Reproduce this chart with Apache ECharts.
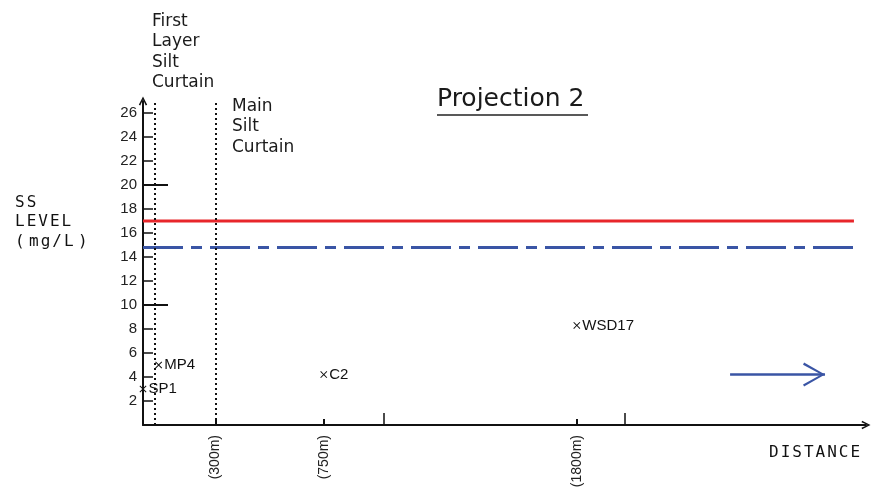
<!DOCTYPE html>
<html>
<head>
<meta charset="utf-8">
<script src="https://cdn.jsdelivr.net/npm/echarts@6/dist/echarts.min.js"></script>
<style>html,body{margin:0;padding:0;background:#fff;}#c{width:877px;height:492px;}</style>
</head>
<body>
<div id="c"></div>
<script>
// ---- data ----
const pointNames = ['SP1', 'MP4', 'C2', 'WSD17'];
const pointDist = [0, 65, 750, 1800];
const pointLevel = [3.0, 5.0, 4.2, 8.3];
const curtainDist = [50, 300];
const xLabelValues = [300, 750, 1800];
const xMinorTicks = [300, 750, 1800];
const xMajorTicks = [1000, 2000];
const yLabelValues = [2, 4, 6, 8, 10, 12, 14, 16, 18, 20, 22, 24, 26];
const yMajorTicks = [10, 20];
const redLimit = [[0, 17], [2950, 17]];
const blueLimit = [[0, 14.8], [2970, 14.8]];
const arrowLine = [[2436, 4.2], [2830, 4.2]];
const xMax = 3000, yMax = 27;

const chev = 'path://M0,20 L10,0 L20,20 L18.2,21 L10,3.6 L1.8,21 Z';
const axisChev = 'path://M0,20 L10,0 L20,20 L16.5,21.5 L10,7 L3.5,21.5 Z';
const cross = 'path://M1,0 L5,4 L9,0 L10,1 L6,5 L10,9 L9,10 L5,6 L1,10 L0,9 L4,5 L0,1 Z';

function spaced(str) {
  // wrap every character in a rich token so it gets letter spacing
  return str.split('\n').map(line => line.split('').map(ch => ch === ' ' ? '{s| }' : '{l|' + ch + '}').join('')).join('\n');
}
const monoRich = {
  l: {fontFamily: 'DejaVu Sans Mono', fontSize: 16, fill: '#111', padding: [0, 1]},
  s: {fontFamily: 'DejaVu Sans Mono', fontSize: 4, fill: '#111', padding: [0, 0]}
};
const roundText = {fontFamily: 'DejaVu Sans', fontSize: 17, fill: '#1a1a1a', lineHeight: 20.5};

const chart = echarts.init(document.getElementById('c'));
chart.setOption({
  animation: false,
  backgroundColor: '#fff',
  grid: {left: 143, right: 11, top: 101, bottom: 67},
  xAxis: [{
    type: 'value', min: 0, max: xMax,
    axisLine: {show: true, lineStyle: {color: '#111', width: 2}, symbol: ['none', axisChev], symbolSize: [11, 9]},
    splitLine: {show: false},
    axisTick: {show: true, inside: true, length: 6, customValues: xMinorTicks, lineStyle: {color: '#111', width: 2}},
    axisLabel: {show: true, customValues: xLabelValues, rotate: 90, formatter: v => '(' + v + 'm)',
      fontFamily: 'Liberation Sans', fontSize: 14, color: '#222', margin: 10}
  }, {
    type: 'value', min: 0, max: xMax, position: 'bottom', offset: 0,
    axisLine: {show: false}, splitLine: {show: false}, axisLabel: {show: false},
    axisTick: {show: true, inside: true, length: 12, customValues: xMajorTicks, lineStyle: {color: '#111', width: 1.5}}
  }],
  yAxis: [{
    type: 'value', min: 0, max: yMax,
    axisLine: {show: true, lineStyle: {color: '#111', width: 2}, symbol: ['none', axisChev], symbolSize: [13, 9]},
    splitLine: {show: false},
    axisTick: {show: true, inside: true, length: 10, customValues: yLabelValues, lineStyle: {color: '#111', width: 1.5}},
    axisLabel: {show: true, customValues: yLabelValues, fontFamily: 'Liberation Sans', fontSize: 15, color: '#222', margin: 6}
  }, {
    type: 'value', min: 0, max: yMax, position: 'left', offset: 0,
    axisLine: {show: false}, splitLine: {show: false}, axisLabel: {show: false},
    axisTick: {show: true, inside: true, length: 25, customValues: yMajorTicks, lineStyle: {color: '#111', width: 2}}
  }],
  series: [
    {
      type: 'line', data: redLimit, symbol: 'none', silent: true,
      lineStyle: {color: '#e8262b', width: 3}
    },
    {
      type: 'line', data: blueLimit, symbol: 'none', silent: true,
      lineStyle: {color: '#3a55a5', width: 3, type: [40, 8, 11, 8]}
    },
    {
      type: 'scatter',
      data: pointDist.map((d, i) => ({value: [d, pointLevel[i]], name: pointNames[i]})),
      symbol: cross, symbolSize: 7,
      itemStyle: {color: '#111', opacity: 1},
      label: {show: true, position: 'right', distance: 2, formatter: p => p.name,
        fontFamily: 'Liberation Sans', fontSize: 15, color: '#111'},
      markLine: {
        silent: true, symbol: ['none', 'none'], label: {show: false},
        lineStyle: {color: '#111', width: 2, type: [2, 3]},
        data: curtainDist.map(d => ({xAxis: d}))
      }
    },
    {
      type: 'line', data: [], silent: true,
      markLine: {
        silent: true, symbol: ['none', chev], symbolSize: [24, 22], symbolOffset: [[0, 0], [0, 11]],
        label: {show: false},
        lineStyle: {color: '#3a55a5', width: 2.5, type: 'solid'},
        data: [[{coord: arrowLine[0]}, {coord: arrowLine[1]}]]
      }
    }
  ],
  graphic: [
    {type: 'text', left: 437, top: 87, style: {text: 'Projection 2', fontFamily: 'DejaVu Sans', fontSize: 25, fill: '#1a1a1a'}},
    {type: 'line', shape: {x1: 437, y1: 115, x2: 588, y2: 115}, style: {stroke: '#222', lineWidth: 1.5}},
    {type: 'text', left: 152, top: 11, style: Object.assign({text: 'First\nLayer\nSilt\nCurtain'}, roundText)},
    {type: 'text', left: 232, top: 96, style: Object.assign({text: 'Main\nSilt\nCurtain'}, roundText)},
    {type: 'text', left: 14, top: 193, style: {text: spaced('SS\nLEVEL\n( mg/L )'), rich: monoRich, lineHeight: 19.5}},
    {type: 'text', left: 769, top: 445, style: {text: spaced('DISTANCE'), rich: monoRich}}
  ]
});
</script>
</body>
</html>
